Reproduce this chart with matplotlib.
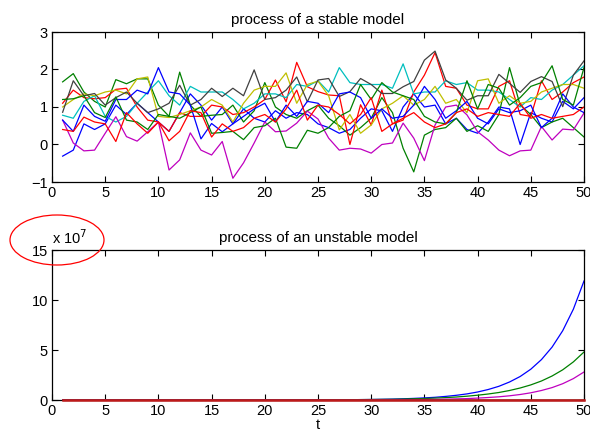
import matplotlib
matplotlib.use('Agg')
import matplotlib.pyplot as plt
from matplotlib.patches import Ellipse
import numpy as np

plt.rcParams['font.family'] = ['Liberation Sans', 'DejaVu Sans']

# ----------------------------------------
# Data
# ----------------------------------------
t = list(range(1, 51))

# stable model, 10 realisations
blue1 = [-0.31, -0.15, 0.55, 0.40, 0.55, 1.05, 0.80, 1.10, 0.85, 0.60,
         0.35, 0.85, 1.35, 1.05, 0.65, 1.00, 0.55, 0.95, 0.70, 0.60,
         0.90, 0.70, 0.85, 0.80, 0.55, 0.45, 0.30, 0.40, 0.70, 0.95,
         0.90, 0.35, 1.00, 1.35, 1.00, 1.05, 0.55, 0.70, 0.40, 0.30,
         0.60, 1.00, 0.95, 0.00, 0.85, 0.70, 0.60, 1.15, 0.95, 1.25]
green1 = [1.67, 1.89, 1.40, 1.15, 1.00, 1.73, 1.62, 1.75, 1.75, 1.05,
          0.75, 1.93, 1.05, 0.75, 0.78, 0.80, 1.05, 0.60, 0.90, 1.65,
          1.00, 0.80, 0.70, 0.90, 1.05, 0.70, 0.50, 0.25, 0.45, 0.70,
          1.25, 0.85, -0.10, -0.73, 0.25, 0.40, 0.45, 0.70, 0.35, 0.50,
          0.35, 0.80, 2.05, 1.05, 0.80, 0.45, 0.60, 0.70, 0.45, 0.20]
red1 = [1.10, 1.45, 1.25, 1.22, 1.25, 1.47, 1.50, 1.00, 0.65, 0.60,
        0.35, 0.85, 0.75, 0.75, 1.05, 1.00, 0.80, 0.85, 1.00, 1.20,
        1.72, 1.14, 2.19, 1.54, 1.41, 1.32, 1.30, 0.00, 1.06, 0.52,
        1.45, 0.55, 0.65, 1.40, 1.85, 2.45, 1.55, 1.50, 1.05, 0.95,
        0.95, 1.55, 1.70, 0.80, 0.75, 1.70, 1.20, 1.40, 1.65, 1.80]
cyan = [0.78, 0.70, 1.15, 1.30, 0.75, 0.60, 0.75, 1.10, 1.40, 1.70,
        1.30, 1.05, 1.55, 1.40, 1.40, 1.40, 1.20, 0.95, 1.10, 1.35,
        1.35, 1.25, 1.60, 1.55, 1.70, 1.40, 2.05, 1.65, 1.60, 1.60,
        1.60, 1.50, 2.15, 1.35, 1.40, 1.40, 1.70, 1.60, 1.65, 1.45,
        1.45, 1.40, 1.20, 1.00, 1.25, 1.20, 1.45, 1.60, 1.85, 2.10]
magenta = [0.65, 0.04, -0.17, -0.15, 0.30, 0.74, 0.21, 0.09, 0.34, 0.60,
           -0.68, -0.41, 0.31, -0.15, -0.28, 0.08, -0.90, -0.49, 0.04, 0.60,
           0.34, 0.36, 0.57, 0.89, 0.68, 0.17, -0.15, -0.10, -0.12, -0.23,
           0.00, 0.04, 0.57, 0.17, -0.43, 0.52, 1.00, 1.05, 0.79, 0.34,
           0.12, -0.15, -0.30, -0.17, -0.15, 0.48, 0.12, 0.41, 0.39, 0.84]
yellow = [1.00, 1.20, 1.35, 1.30, 1.40, 1.45, 1.35, 1.75, 1.80, 0.75,
          0.72, 0.80, 0.90, 1.00, 1.20, 1.05, 0.60, 1.10, 1.45, 1.55,
          1.55, 1.91, 1.10, 1.60, 1.69, 1.30, 0.39, 0.80, 0.30, 0.52,
          0.95, 1.10, 1.30, 1.05, 1.20, 1.55, 1.10, 1.20, 0.85, 1.70,
          1.75, 1.10, 1.30, 1.10, 1.15, 1.40, 1.50, 1.60, 1.60, 1.50]
gray = [0.86, 1.70, 1.30, 1.36, 1.05, 1.25, 1.40, 1.10, 0.85, 0.95,
        1.10, 1.58, 1.05, 1.20, 1.50, 1.28, 1.50, 1.30, 1.99, 1.20,
        1.25, 1.45, 1.80, 1.14, 1.72, 1.76, 1.28, 1.41, 1.76, 1.60,
        1.36, 1.36, 1.54, 1.68, 2.25, 2.49, 1.72, 1.50, 1.18, 1.30,
        1.30, 1.87, 1.63, 1.39, 1.68, 1.81, 1.68, 1.01, 1.85, 2.23]
blue2 = [0.65, 0.35, 1.05, 0.75, 0.62, 1.20, 1.20, 1.45, 1.35, 2.05,
         1.40, 1.35, 1.05, 0.15, 0.56, 0.34, 0.55, 0.75, 0.95, 1.10,
         0.60, 1.05, 0.75, 1.15, 1.10, 0.85, 1.35, 1.40, 1.25, 0.70,
         0.95, 0.70, 0.75, 1.05, 1.55, 1.20, 0.70, 0.90, 1.15, 0.70,
         0.55, 0.95, 0.85, 0.90, 1.05, 0.45, 0.70, 1.35, 1.00, 0.85]
green2 = [1.20, 1.22, 1.30, 0.85, 0.72, 1.27, 0.65, 0.60, 0.40, 0.80,
          0.75, 0.70, 0.85, 1.00, 0.30, 0.32, 0.35, 0.13, 0.45, 0.50,
          0.70, -0.07, -0.10, 0.38, 0.30, 0.45, 0.75, 0.90, 1.60, 1.20,
          1.65, 1.40, 1.30, 1.20, 0.75, 0.60, 0.55, 0.85, 1.70, 0.95,
          1.60, 1.50, 1.05, 1.25, 1.55, 1.65, 2.10, 1.20, 1.05, 2.05]
red2 = [0.40, 0.35, 0.73, 0.60, 0.55, 0.08, 0.85, 0.55, 0.30, 0.60,
        0.10, 0.35, 0.90, 0.85, 0.20, 0.55, 0.35, 0.45, 0.70, 0.80,
        0.60, 0.95, 1.45, 0.65, 1.05, 1.00, 0.80, 0.55, 0.80, 1.25,
        0.35, 0.55, 0.70, 0.85, 0.60, 0.45, 0.55, 0.85, 0.95, 0.75,
        0.85, 0.80, 0.75, 1.10, 0.70, 0.80, 0.70, 0.75, 0.80, 1.00]

# unstable model, in units of 1e7 (only three visibly grow, rest stay at 0)
unst_blue = [0]*24 + [0.01, 0.02, 0.02, 0.03, 0.04,
                      0.05, 0.07, 0.09, 0.12, 0.16, 0.21, 0.27, 0.36, 0.47, 0.61,
                      0.80, 1.05, 1.37, 1.80, 2.35, 3.08, 4.04, 5.29, 6.93, 9.08, 11.9]
unst_green = [0]*24 + [0.01, 0.02, 0.02, 0.03, 0.04, 0.05,
                       0.06, 0.07, 0.09, 0.12, 0.15, 0.19, 0.24, 0.30, 0.38,
                       0.48, 0.60, 0.75, 0.95, 1.20, 1.51, 1.90, 2.40, 3.02, 3.81, 4.8]
unst_magenta = [0]*29 + [0.01, 0.02, 0.02, 0.03, 0.04, 0.05, 0.06, 0.08, 0.11,
                         0.14, 0.19, 0.25, 0.32, 0.42, 0.55, 0.72, 0.95, 1.24,
                         1.63, 2.14, 2.8]
unst_zero = [0]*50

# MATLAB default colour order
mb = (0, 0, 1)
mg = (0, 0.5, 0)
mr = (1, 0, 0)
mc = (0, 0.75, 0.75)
mm = (0.75, 0, 0.75)
my = (0.75, 0.75, 0)
mk = (0.25, 0.25, 0.25)

stable = [(blue1, mb), (green1, mg), (red1, mr), (cyan, mc), (magenta, mm),
          (yellow, my), (gray, mk), (blue2, mb), (green2, mg), (red2, mr)]
unstable = [(unst_blue, mb), (unst_green, mg), (unst_zero, mr), (unst_zero, mc),
            (unst_magenta, mm), (unst_zero, my), (unst_zero, mk), (unst_zero, mb),
            (unst_zero, mg), (unst_zero, (0.75, 0.1, 0.1))]

# ----------------------------------------
# Figure
# ----------------------------------------
fig = plt.figure(figsize=(5.9, 4.4), dpi=100)
ax1 = fig.add_axes([52/590, 1-182/440, 532/590, 150/440])
ax2 = fig.add_axes([52/590, 1-400/440, 532/590, 150/440])

for ys, col in stable:
    ax1.plot(t, ys, color=col, lw=0.9)
for i, (ys, col) in enumerate(unstable):
    if i == len(unstable) - 1:
        # last (red) trace sits on the zero line, drawn over the axis
        ax2.plot(t, ys, color=col, lw=1.8, zorder=3, clip_on=False)
    else:
        ax2.plot(t, ys, color=col, lw=0.9)

for ax in (ax1, ax2):
    ax.set_xlim(0, 50)
    ax.set_xticks(range(0, 51, 5))
    ax.tick_params(direction='in', top=True, right=True, length=4, width=0.8,
                   labelsize=10.5, pad=3)
    for s in ax.spines.values():
        s.set_linewidth(0.9)

ax1.set_ylim(-1, 3)
ax1.set_yticks([-1, 0, 1, 2, 3])
ax1.set_yticklabels(['\u22121', '0', '1', '2', '3'])
ax1.set_title('process of a stable model', fontsize=11, pad=6)

ax2.set_ylim(0, 15)
ax2.set_yticks([0, 5, 10, 15])
ax2.set_title('process of an unstable model', fontsize=11, pad=6)
ax2.set_xlabel('t', fontsize=10.5, labelpad=0)
ax2.text(0.0, 1.02, 'x 10$^{7}$', transform=ax2.transAxes, fontsize=10.5,
         ha='left', va='bottom')

# red ellipse marking the exponent
fig.add_artist(Ellipse((0.57, 2.0), 0.94, 0.5, transform=fig.dpi_scale_trans,
                       fill=False, edgecolor='red', lw=0.9))

fig.savefig('out.png', dpi=100)
